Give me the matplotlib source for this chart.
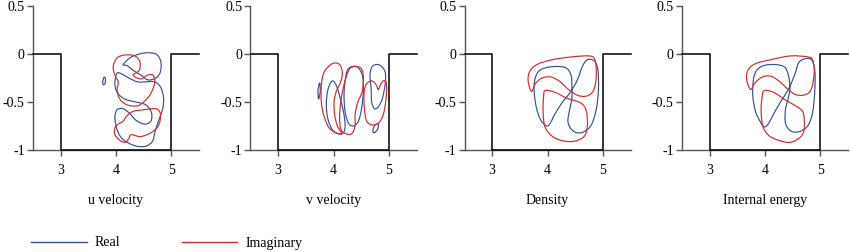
import numpy as np
import matplotlib
matplotlib.use('Agg')
import matplotlib.pyplot as plt
from matplotlib.path import Path
from matplotlib.patches import PathPatch
from matplotlib.lines import Line2D

plt.rcParams['font.family'] = ['Liberation Serif', 'DejaVu Serif']

# panel titles and axis ticks
titles = ['u velocity', 'v velocity', 'Density', 'Internal energy']
x_ticks = [3, 4, 5]
y_ticks = [0.5, 0, -0.5, -1]
y_tick_labels = ['0.5', '0', '-0.5', '-1']

# base flow (step profile)
step_x = [2.5, 3, 3, 5, 5, 5.5]
step_y = [0, 0, -1, -1, 0, 0]

# eigenfunction loops (each inner list is one closed loop)
u_real_x = [[4.13, 4.28, 4.51, 4.72, 4.81, 4.80, 4.72, 4.58, 4.45, 4.31, 4.20],
            [4.02, 3.98, 4.02, 4.16, 4.36, 4.54, 4.64, 4.63, 4.51, 4.36, 4.25, 4.13, 4.02, 3.98, 4.01,
             4.08, 4.20, 4.37, 4.54, 4.66, 4.70, 4.76, 4.84, 4.86, 4.81, 4.70, 4.55, 4.39, 4.23, 4.11],
            [3.76, 3.77, 3.79, 3.81, 3.80, 3.77]]
u_real_y = [[-0.11, -0.03, 0.01, 0.00, -0.08, -0.19, -0.25, -0.27, -0.22, -0.17, -0.12],
            [-0.20, -0.30, -0.40, -0.47, -0.50, -0.53, -0.61, -0.70, -0.73, -0.69, -0.62, -0.57, -0.58, -0.66, -0.77,
             -0.86, -0.92, -0.96, -0.96, -0.91, -0.82, -0.71, -0.58, -0.46, -0.35, -0.29, -0.29, -0.29, -0.25, -0.21],
            [-0.30, -0.26, -0.24, -0.26, -0.31, -0.32]]
u_imag_x = [[4.31, 4.42, 4.43, 4.34, 4.17, 4.02, 3.95, 3.98, 4.04, 4.02, 4.07, 4.20, 4.39, 4.52, 4.63, 4.70, 4.67, 4.57, 4.45],
            [4.19, 4.30, 4.51, 4.72, 4.80, 4.78, 4.66, 4.45, 4.28, 4.23, 4.17, 4.07, 3.98, 3.98, 4.04, 4.13]]
u_imag_y = [[-0.22, -0.17, -0.08, -0.02, -0.01, -0.04, -0.13, -0.22, -0.29, -0.38, -0.47, -0.53, -0.54, -0.49, -0.41, -0.30, -0.22, -0.22, -0.26],
            [-0.65, -0.60, -0.58, -0.57, -0.62, -0.73, -0.81, -0.86, -0.84, -0.88, -0.92, -0.90, -0.84, -0.77, -0.73, -0.70]]

v_real_x = [[3.75, 3.72, 3.73, 3.76],
            [3.98, 3.90, 3.87, 3.90, 3.98, 4.08, 4.18, 4.21, 4.18, 4.12, 4.06],
            [4.25, 4.34, 4.44, 4.52, 4.54, 4.51, 4.45, 4.36, 4.27, 4.21, 4.19, 4.21],
            [4.70, 4.81, 4.90, 4.94, 4.93, 4.88, 4.81, 4.74, 4.69, 4.68, 4.66],
            [4.71, 4.75, 4.81, 4.80, 4.74]]
v_real_y = [[-0.30, -0.38, -0.47, -0.39],
            [-0.28, -0.37, -0.53, -0.68, -0.79, -0.83, -0.82, -0.74, -0.60, -0.46, -0.34],
            [-0.17, -0.13, -0.14, -0.22, -0.37, -0.56, -0.70, -0.75, -0.72, -0.60, -0.43, -0.28],
            [-0.13, -0.11, -0.15, -0.21, -0.33, -0.47, -0.55, -0.57, -0.50, -0.36, -0.22],
            [-0.80, -0.74, -0.73, -0.78, -0.82]]
v_imag_x = [[3.98, 4.11, 4.16, 4.13, 4.05, 4.01, 4.02, 4.07, 4.15, 4.04, 3.92, 3.83, 3.78, 3.78, 3.83],
            [4.24, 4.30, 4.39, 4.50, 4.54, 4.52, 4.44, 4.39, 4.39, 4.33, 4.22, 4.13, 4.11, 4.13, 4.17],
            [4.56, 4.60, 4.69, 4.77, 4.81, 4.85, 4.90, 4.95, 4.96, 4.94, 4.90, 4.83, 4.71, 4.60, 4.56, 4.55]]
v_imag_y = [[-0.10, -0.11, -0.20, -0.29, -0.39, -0.50, -0.63, -0.75, -0.83, -0.82, -0.77, -0.65, -0.50, -0.33, -0.19],
            [-0.22, -0.15, -0.13, -0.15, -0.24, -0.39, -0.50, -0.63, -0.75, -0.83, -0.83, -0.78, -0.65, -0.51, -0.37],
            [-0.37, -0.31, -0.28, -0.32, -0.37, -0.32, -0.28, -0.29, -0.38, -0.51, -0.63, -0.71, -0.74, -0.70, -0.58, -0.46]]

rho_real_x = [[3.77, 3.76, 3.80, 3.87, 3.98, 4.05, 4.13, 4.26, 4.41, 4.54, 4.63, 4.72, 4.84, 4.91,
               4.92, 4.88, 4.78, 4.61, 4.46, 4.37, 4.40, 4.44, 4.44, 4.43, 4.35, 4.20, 3.99, 3.84]]
rho_real_y = [[-0.27, -0.40, -0.56, -0.68, -0.75, -0.72, -0.63, -0.51, -0.40, -0.27, -0.13, -0.06, -0.07, -0.16,
               -0.37, -0.58, -0.75, -0.82, -0.80, -0.71, -0.58, -0.47, -0.35, -0.23, -0.15, -0.13, -0.14, -0.18]]
rho_imag_x = [[3.71, 3.65, 3.68, 3.81, 4.08, 4.44, 4.75, 4.85, 4.88, 4.87, 4.81, 4.69, 4.54, 4.38, 4.23, 4.07, 3.90, 3.78],
              [3.96, 4.14, 4.35, 4.60, 4.70, 4.72, 4.66, 4.47, 4.25, 4.07, 3.95, 3.92, 3.93]]
rho_imag_y = [[-0.39, -0.28, -0.18, -0.11, -0.06, -0.03, -0.02, -0.05, -0.16, -0.30, -0.40, -0.44, -0.43, -0.37, -0.29, -0.24, -0.25, -0.31],
              [-0.38, -0.40, -0.46, -0.51, -0.59, -0.75, -0.86, -0.91, -0.90, -0.85, -0.75, -0.59, -0.44]]

e_real_x = [[3.79, 3.78, 3.83, 3.91, 3.99, 4.07, 4.15, 4.28, 4.43, 4.54, 4.61, 4.72, 4.84, 4.90,
             4.90, 4.86, 4.77, 4.61, 4.46, 4.37, 4.37, 4.42, 4.45, 4.43, 4.36, 4.19, 3.98, 3.85]]
e_real_y = [[-0.27, -0.44, -0.60, -0.70, -0.76, -0.72, -0.63, -0.50, -0.36, -0.21, -0.09, -0.05, -0.06, -0.17,
             -0.38, -0.61, -0.75, -0.81, -0.80, -0.72, -0.58, -0.46, -0.36, -0.24, -0.14, -0.11, -0.12, -0.17]]
e_imag_x = [[3.74, 3.67, 3.69, 3.83, 4.10, 4.46, 4.77, 4.86, 4.89, 4.86, 4.80, 4.68, 4.54, 4.40, 4.25, 4.10, 3.95, 3.82],
            [3.99, 4.16, 4.37, 4.58, 4.69, 4.71, 4.65, 4.46, 4.25, 4.07, 3.96, 3.93, 3.95]]
e_imag_y = [[-0.37, -0.27, -0.17, -0.10, -0.06, -0.02, -0.03, -0.06, -0.17, -0.32, -0.40, -0.43, -0.42, -0.36, -0.28, -0.23, -0.24, -0.30],
            [-0.38, -0.40, -0.48, -0.55, -0.61, -0.77, -0.86, -0.92, -0.90, -0.85, -0.75, -0.58, -0.44]]

real_color = '#34509a'
imag_color = '#d42a2a'


def smooth_loop(ax, xs, ys, color):
    # closed Catmull-Rom curve drawn as cubic Bezier path through the read points
    p = np.column_stack([xs, ys])
    n = len(p)
    verts = [p[0]]
    codes = [Path.MOVETO]
    for i in range(n):
        p0, p1, p2, p3 = p[i - 1], p[i], p[(i + 1) % n], p[(i + 2) % n]
        verts += [p1 + (p2 - p0) / 6, p2 - (p3 - p1) / 6, p2]
        codes += [Path.CURVE4] * 3
    ax.add_patch(PathPatch(Path(verts, codes), fill=False, edgecolor=color, lw=0.85))


panels = [(u_real_x, u_real_y, u_imag_x, u_imag_y),
          (v_real_x, v_real_y, v_imag_x, v_imag_y),
          (rho_real_x, rho_real_y, rho_imag_x, rho_imag_y),
          (e_real_x, e_real_y, e_imag_x, e_imag_y)]

fig = plt.figure(figsize=(8.5, 2.52), dpi=100)
lefts = [33, 250.5, 464.5, 682]
for k, (rx, ry, ix, iy) in enumerate(panels):
    ax = fig.add_axes([lefts[k] / 850, 102 / 252, 166 / 850, 144 / 252])
    ax.plot(step_x, step_y, color='black', lw=1.1, clip_on=False, zorder=3)
    for xs, ys in zip(rx, ry):
        smooth_loop(ax, xs, ys, real_color)
    for xs, ys in zip(ix, iy):
        smooth_loop(ax, xs, ys, imag_color)
    ax.set_xlim(2.5, 5.5)
    ax.set_ylim(-1, 0.5)
    ax.set_xticks(x_ticks)
    ax.set_yticks(y_ticks, labels=y_tick_labels)
    for s in ['top', 'right']:
        ax.spines[s].set_visible(False)
    for s in ['left', 'bottom']:
        ax.spines[s].set_color('#555555')
        ax.spines[s].set_linewidth(1.0)
    ax.tick_params(axis='x', length=4, width=1, color='#555555', pad=6, labelsize=10)
    ax.tick_params(axis='y', length=4, width=1, color='#555555', pad=2, labelsize=10)
    ax.set_xlabel(titles[k], fontsize=10, labelpad=12)

handles = [Line2D([], [], color=real_color, lw=1), Line2D([], [], color=imag_color, lw=1)]
fig.legend(handles, ['Real', 'Imaginary'], loc='center left', bbox_to_anchor=(31 / 850, 1 - 243 / 252),
           ncol=2, frameon=False, fontsize=10, handlelength=4, handletextpad=0.6, columnspacing=4.4,
           borderpad=0, borderaxespad=0)

fig.savefig('out.png', dpi=100)
